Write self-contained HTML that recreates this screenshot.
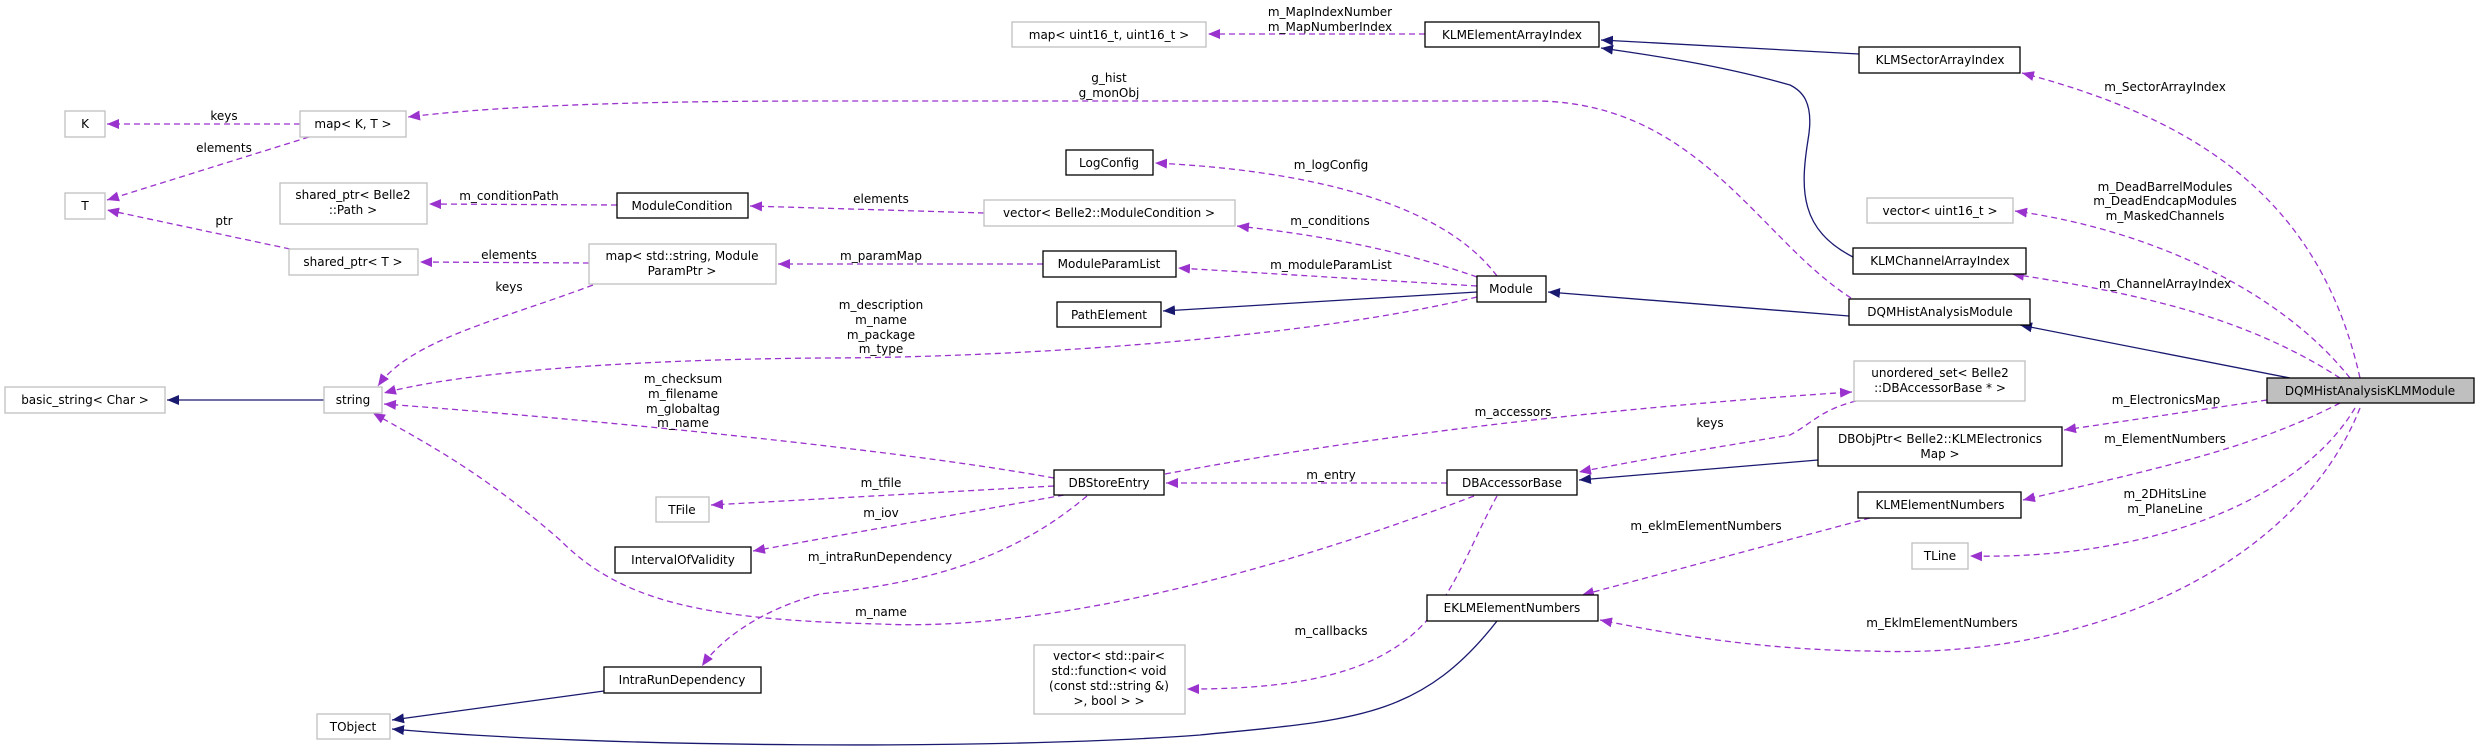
<!DOCTYPE html>
<html><head><meta charset="utf-8"><style>
html,body{margin:0;padding:0;background:#fff;}
svg{display:block;}
text{font-family:"DejaVu Sans","Liberation Sans",sans-serif;font-size:12px;fill:#000;}
.g{fill:#fff;stroke:#bfbfbf;stroke-width:1.3;}
.b{fill:#fff;stroke:#000;stroke-width:1.3;}
.d{fill:none;stroke:#9a32cd;stroke-width:1.3;stroke-dasharray:6,4;}
.s{fill:none;stroke:#191970;stroke-width:1.3;}
</style></head><body>
<svg width="2480" height="752" viewBox="0 0 2480 752" xmlns="http://www.w3.org/2000/svg">
<defs>
<marker id="ap" markerUnits="userSpaceOnUse" markerWidth="14" markerHeight="12" refX="12" refY="5" orient="auto"><path d="M0,0 L12,5 L0,10 Z" fill="#9a32cd"/></marker>
<marker id="an" markerUnits="userSpaceOnUse" markerWidth="14" markerHeight="12" refX="12" refY="5" orient="auto"><path d="M0,0 L12,5 L0,10 Z" fill="#191970"/></marker>
</defs>

<!-- dashed edges -->
<g class="d">
<path d="M300,124 L107,124" marker-end="url(#ap)"/>
<path d="M309,137 L107,200" marker-end="url(#ap)"/>
<path d="M290,249 L107,210" marker-end="url(#ap)"/>
<path d="M617,205 L429,204" marker-end="url(#ap)"/>
<path d="M589,263 L420,262" marker-end="url(#ap)"/>
<path d="M593,285 C500,320 410,340 378,386" marker-end="url(#ap)"/>
<path d="M984,213 L750,206" marker-end="url(#ap)"/>
<path d="M1043,264 L778,264" marker-end="url(#ap)"/>
<path d="M1497,276 C1440,200 1300,170 1155,163" marker-end="url(#ap)"/>
<path d="M1477,277 C1400,250 1320,235 1237,226" marker-end="url(#ap)"/>
<path d="M1477,286 L1178,268" marker-end="url(#ap)"/>
<path d="M1477,297 C1300,340 1000,358 820,358 C600,360 450,375 384,393" marker-end="url(#ap)"/>
<path d="M1851,298 C1760,240 1700,105 1540,101 L820,101 C600,101 480,108 408,117" marker-end="url(#ap)"/>
<path d="M1425,34 L1208,34" marker-end="url(#ap)"/>
<path d="M1054,478 C900,450 600,420 384,404" marker-end="url(#ap)"/>
<path d="M1054,486 L711,505" marker-end="url(#ap)"/>
<path d="M1064,495 L753,551" marker-end="url(#ap)"/>
<path d="M1087,496 C1000,570 900,585 820,594 C760,610 720,640 702,666" marker-end="url(#ap)"/>
<path d="M1474,496 C1200,600 1000,630 880,624 C700,620 620,600 560,540 C480,470 420,440 373,413" marker-end="url(#ap)"/>
<path d="M1447,483 L1166,483" marker-end="url(#ap)"/>
<path d="M1497,496 C1440,600 1440,690 1187,689" marker-end="url(#ap)"/>
<path d="M1165,474 C1400,430 1650,405 1852,392" marker-end="url(#ap)"/>
<path d="M1856,401 C1820,410 1810,425 1790,435 C1700,450 1640,460 1579,472" marker-end="url(#ap)"/>
<path d="M2360,378 C2320,200 2200,120 2022,73" marker-end="url(#ap)"/>
<path d="M2350,378 C2280,290 2150,230 2015,211" marker-end="url(#ap)"/>
<path d="M2340,378 C2250,320 2150,295 2012,274" marker-end="url(#ap)"/>
<path d="M2267,400 L2064,430" marker-end="url(#ap)"/>
<path d="M2340,403 C2250,450 2150,470 2023,500" marker-end="url(#ap)"/>
<path d="M2355,408 C2300,500 2150,560 1970,556" marker-end="url(#ap)"/>
<path d="M2360,408 C2300,560 2100,660 1870,651 C1750,650 1650,630 1600,620" marker-end="url(#ap)"/>
<path d="M1870,518 L1582,595" marker-end="url(#ap)"/>
</g>

<!-- solid edges -->
<g class="s">
<path d="M2290,378 L2020,325" marker-end="url(#an)"/>
<path d="M1849,316 L1548,292" marker-end="url(#an)"/>
<path d="M1477,292 L1163,311" marker-end="url(#an)"/>
<path d="M1859,54 L1601,40" marker-end="url(#an)"/>
<path d="M1853,257 C1800,230 1800,190 1808,140 C1815,100 1800,90 1790,85 C1720,65 1650,55 1601,48" marker-end="url(#an)"/>
<path d="M1818,460 L1579,480" marker-end="url(#an)"/>
<path d="M1497,621 C1420,720 1350,720 1200,735 C1000,750 600,748 392,729" marker-end="url(#an)"/>
<path d="M604,691 L392,720" marker-end="url(#an)"/>
<path d="M324,400 L167,400" marker-end="url(#an)"/>
</g>

<!-- nodes -->
<g text-anchor="middle">
<rect class="g" x="65" y="111" width="40" height="26"/><text x="85" y="128">K</text>
<rect class="g" x="300" y="111" width="106" height="26"/><text x="353" y="128">map&lt; K, T &gt;</text>
<rect class="g" x="65" y="193" width="40" height="26"/><text x="85" y="210">T</text>
<rect class="g" x="280" y="183" width="147" height="41"/><text x="353" y="199">shared_ptr&lt; Belle2</text><text x="353" y="214">::Path &gt;</text>
<rect class="b" x="617" y="193" width="131" height="25"/><text x="682" y="210">ModuleCondition</text>
<rect class="g" x="289" y="249" width="129" height="26"/><text x="353" y="266">shared_ptr&lt; T &gt;</text>
<rect class="g" x="589" y="244" width="187" height="40"/><text x="682" y="260">map&lt; std::string, Module</text><text x="682" y="275">ParamPtr &gt;</text>
<rect class="g" x="5" y="387" width="160" height="26"/><text x="85" y="404">basic_string&lt; Char &gt;</text>
<rect class="g" x="324" y="387" width="58" height="26"/><text x="353" y="404">string</text>
<rect class="g" x="656" y="497" width="53" height="25"/><text x="682" y="514">TFile</text>
<rect class="b" x="615" y="547" width="136" height="26"/><text x="683" y="564">IntervalOfValidity</text>
<rect class="b" x="604" y="667" width="157" height="26"/><text x="682" y="684">IntraRunDependency</text>
<rect class="g" x="317" y="714" width="73" height="25"/><text x="353" y="731">TObject</text>
<rect class="g" x="1012" y="22" width="194" height="25"/><text x="1109" y="39">map&lt; uint16_t, uint16_t &gt;</text>
<rect class="b" x="1425" y="22" width="174" height="25"/><text x="1512" y="39">KLMElementArrayIndex</text>
<rect class="b" x="1066" y="150" width="87" height="25"/><text x="1109" y="167">LogConfig</text>
<rect class="g" x="984" y="200" width="251" height="26"/><text x="1109" y="217">vector&lt; Belle2::ModuleCondition &gt;</text>
<rect class="b" x="1043" y="251" width="133" height="26"/><text x="1109" y="268">ModuleParamList</text>
<rect class="b" x="1057" y="302" width="104" height="25"/><text x="1109" y="319">PathElement</text>
<rect class="b" x="1477" y="276" width="69" height="26"/><text x="1511" y="293">Module</text>
<rect class="b" x="1054" y="470" width="110" height="25"/><text x="1109" y="487">DBStoreEntry</text>
<rect class="b" x="1447" y="470" width="130" height="25"/><text x="1512" y="487">DBAccessorBase</text>
<rect class="b" x="1427" y="595" width="171" height="26"/><text x="1512" y="612">EKLMElementNumbers</text>
<rect class="g" x="1034" y="645" width="151" height="69"/><text x="1109" y="660">vector&lt; std::pair&lt;</text><text x="1109" y="675"> std::function&lt; void</text><text x="1109" y="690">(const std::string &amp;)</text><text x="1109" y="705">&gt;, bool &gt; &gt;</text>
<rect class="b" x="1859" y="47" width="161" height="26"/><text x="1940" y="64">KLMSectorArrayIndex</text>
<rect class="g" x="1867" y="198" width="146" height="25"/><text x="1940" y="215">vector&lt; uint16_t &gt;</text>
<rect class="b" x="1853" y="248" width="173" height="26"/><text x="1940" y="265">KLMChannelArrayIndex</text>
<rect class="b" x="1849" y="299" width="181" height="26"/><text x="1940" y="316">DQMHistAnalysisModule</text>
<rect class="g" x="1854" y="361" width="171" height="40"/><text x="1940" y="377">unordered_set&lt; Belle2</text><text x="1940" y="392">::DBAccessorBase * &gt;</text>
<rect x="2267" y="378" width="207" height="25" fill="#bfbfbf" stroke="#000" stroke-width="1.3"/><text x="2370" y="395">DQMHistAnalysisKLMModule</text>
<rect class="b" x="1818" y="427" width="244" height="39"/><text x="1940" y="443">DBObjPtr&lt; Belle2::KLMElectronics</text><text x="1940" y="458">Map &gt;</text>
<rect class="b" x="1858" y="492" width="163" height="26"/><text x="1940" y="509">KLMElementNumbers</text>
<rect class="g" x="1912" y="543" width="56" height="26"/><text x="1940" y="560">TLine</text>
</g>

<!-- edge labels -->
<g text-anchor="middle">
<text x="224" y="120">keys</text>
<text x="224" y="152">elements</text>
<text x="224" y="225">ptr</text>
<text x="509" y="200">m_conditionPath</text>
<text x="509" y="259">elements</text>
<text x="509" y="291">keys</text>
<text x="683" y="383">m_checksum</text>
<text x="683" y="398">m_filename</text>
<text x="683" y="413">m_globaltag</text>
<text x="683" y="427">m_name</text>
<text x="1330" y="16">m_MapIndexNumber</text>
<text x="1330" y="31">m_MapNumberIndex</text>
<text x="1109" y="82">g_hist</text>
<text x="1109" y="97">g_monObj</text>
<text x="1331" y="169">m_logConfig</text>
<text x="1330" y="225">m_conditions</text>
<text x="1331" y="269">m_moduleParamList</text>
<text x="881" y="203">elements</text>
<text x="881" y="260">m_paramMap</text>
<text x="881" y="309">m_description</text>
<text x="881" y="324">m_name</text>
<text x="881" y="339">m_package</text>
<text x="881" y="353">m_type</text>
<text x="1513" y="416">m_accessors</text>
<text x="1331" y="479">m_entry</text>
<text x="881" y="487">m_tfile</text>
<text x="881" y="517">m_iov</text>
<text x="880" y="561">m_intraRunDependency</text>
<text x="881" y="616">m_name</text>
<text x="1331" y="635">m_callbacks</text>
<text x="2165" y="91">m_SectorArrayIndex</text>
<text x="2165" y="191">m_DeadBarrelModules</text>
<text x="2165" y="205">m_DeadEndcapModules</text>
<text x="2165" y="220">m_MaskedChannels</text>
<text x="2165" y="288">m_ChannelArrayIndex</text>
<text x="2166" y="404">m_ElectronicsMap</text>
<text x="2165" y="443">m_ElementNumbers</text>
<text x="2165" y="498">m_2DHitsLine</text>
<text x="2165" y="513">m_PlaneLine</text>
<text x="1706" y="530">m_eklmElementNumbers</text>
<text x="1942" y="627">m_EklmElementNumbers</text>
<text x="1710" y="427">keys</text>
</g>
</svg>
</body></html>
